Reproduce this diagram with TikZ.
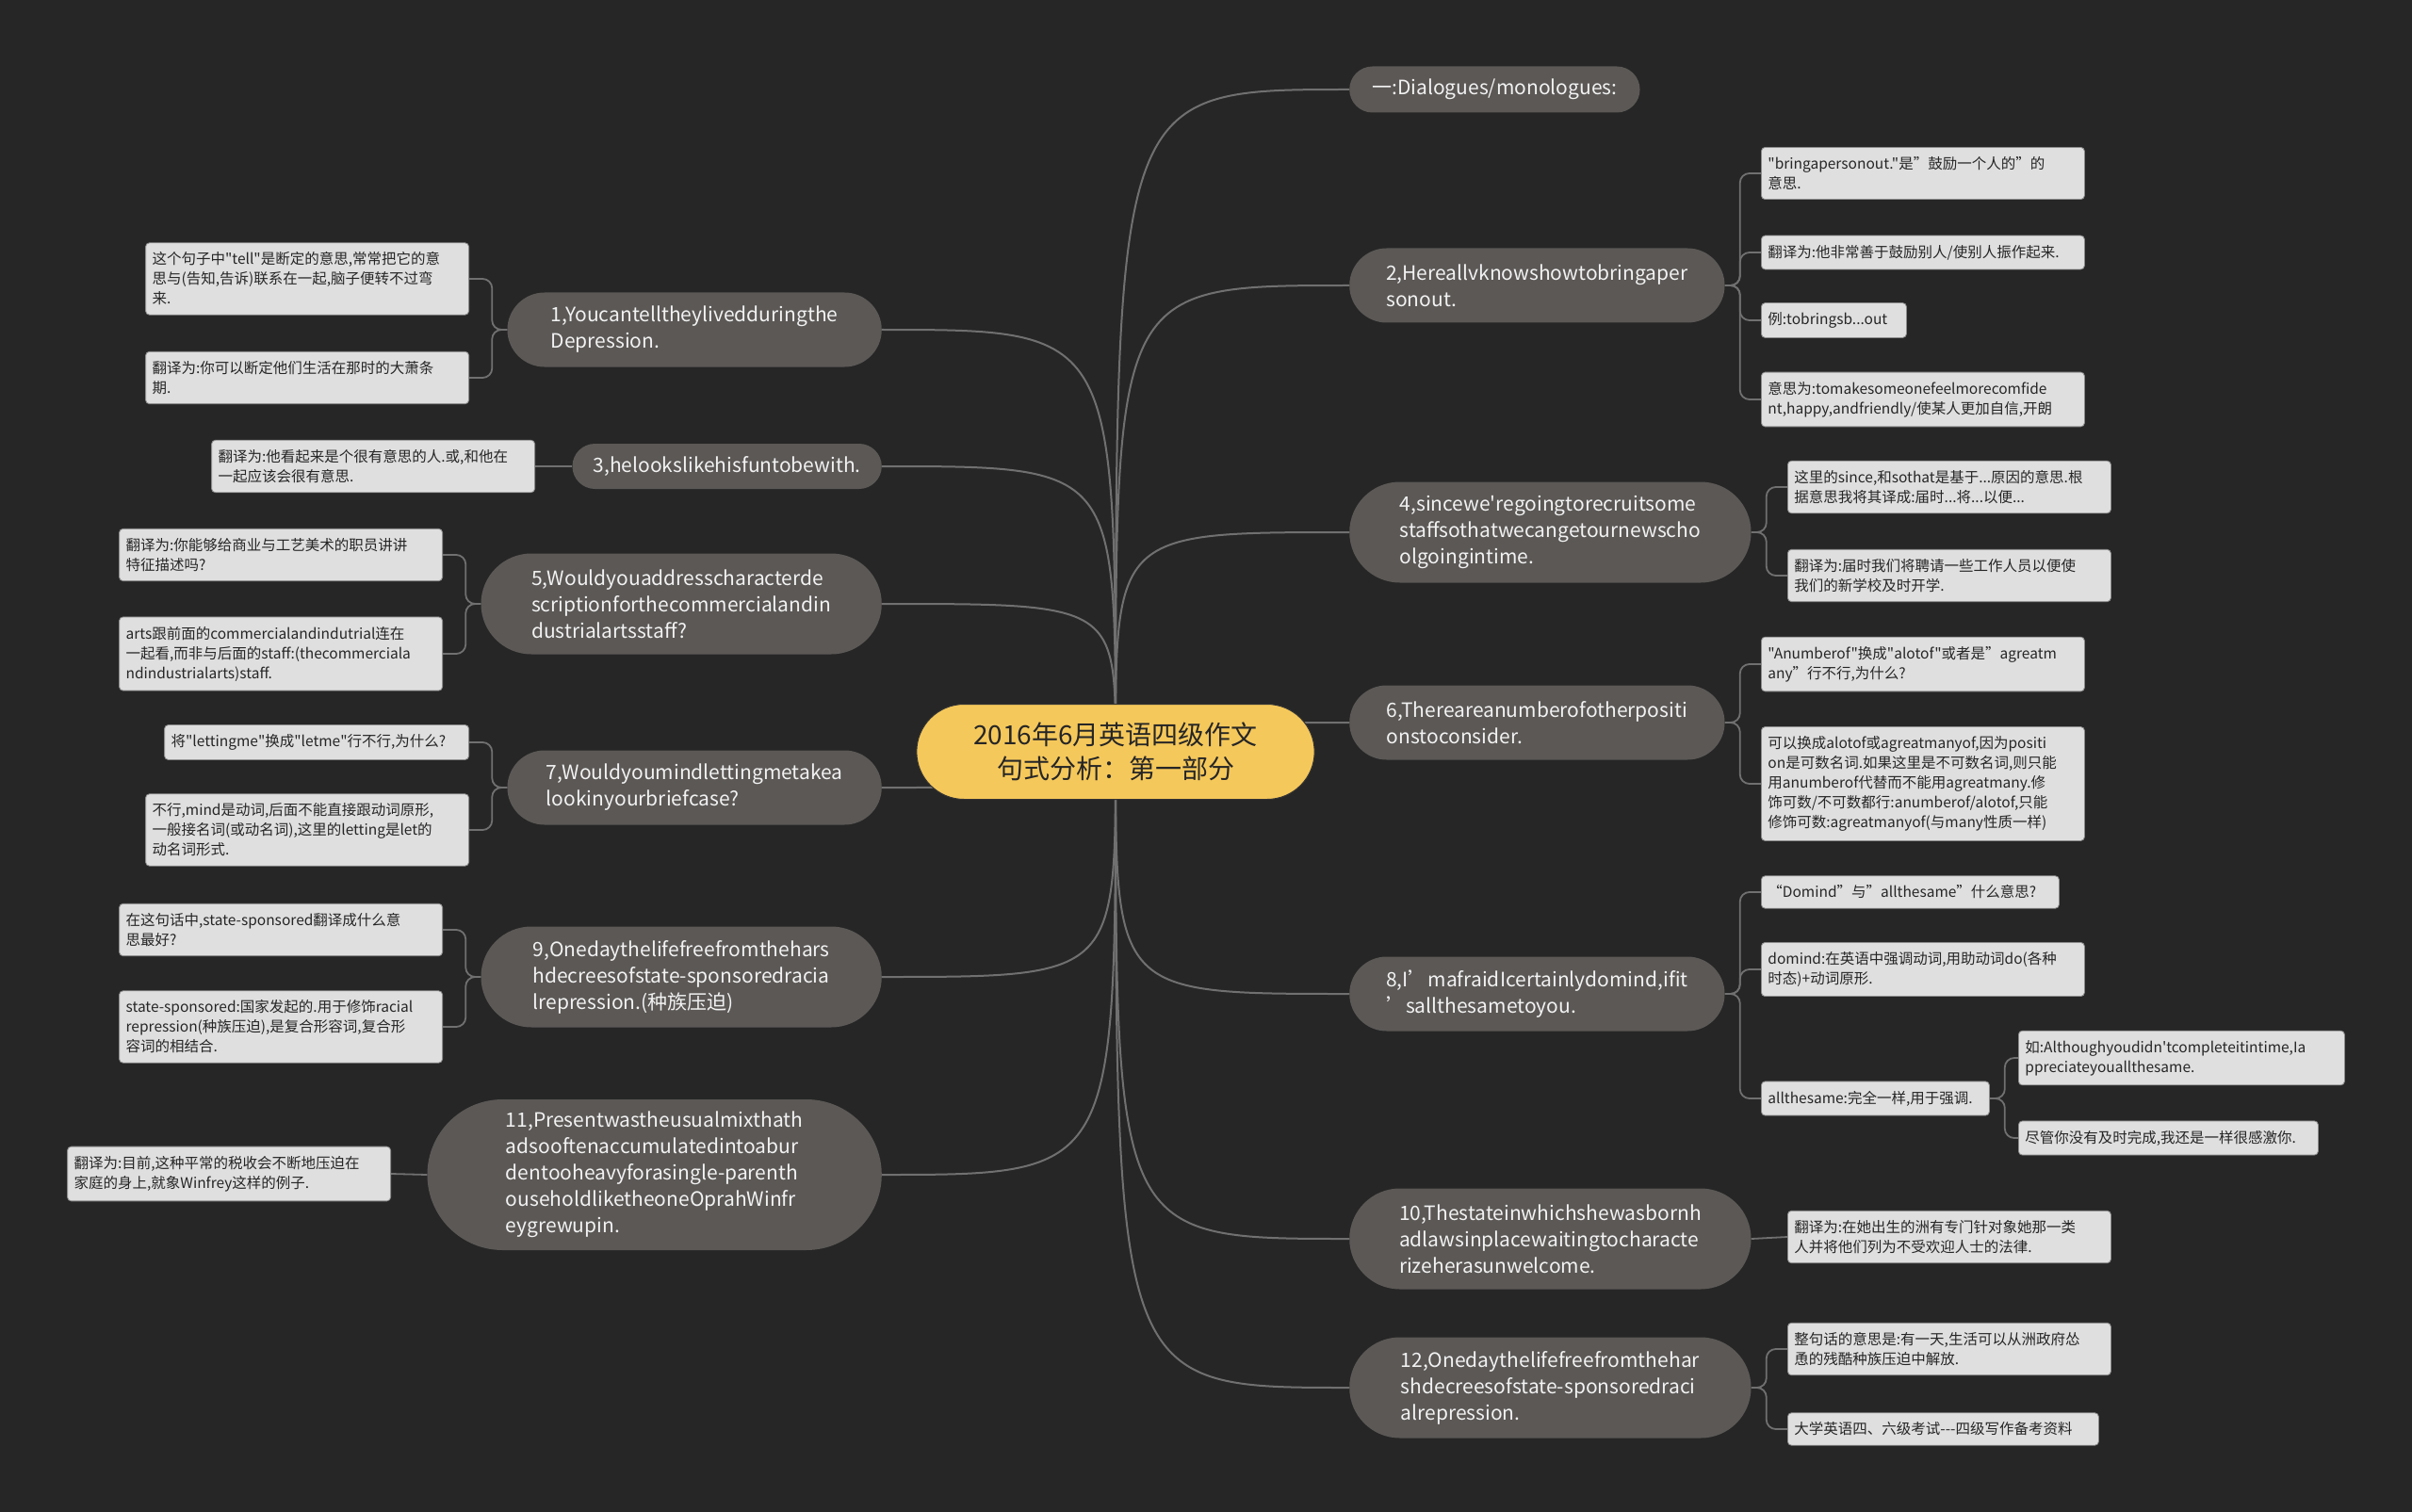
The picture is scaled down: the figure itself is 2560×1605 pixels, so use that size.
\documentclass[tikz,border=0pt]{standalone}
\usepackage{fontspec}
\setmainfont{Noto Sans CJK SC}[Ligatures=TeXOff]
\usetikzlibrary{shapes.misc}
\definecolor{bgcol}{HTML}{262626}
\definecolor{topiccol}{HTML}{5B5856}
\definecolor{leafcol}{HTML}{DFDFDF}
\definecolor{rootcol}{HTML}{F5C85B}
\definecolor{linkcol}{HTML}{707070}
\pgfdeclarelayer{bg}
\pgfsetlayers{bg,main}
\tikzset{root/.style={rounded rectangle,draw=black!80,line width=1pt,fill=rootcol,text=black!85,align=center,font=\fontsize{28}{36}\selectfont,minimum width=429pt,minimum height=101pt},topic/.style={rounded rectangle,fill=topiccol,text=white!95!black,align=left,font=\fontsize{21}{28}\selectfont,minimum height=79pt},leaf/.style={rectangle,rounded corners=4pt,fill=leafcol,draw=black!45,line width=0.8pt,text=black!85,align=left,font=\fontsize{15.5}{21}\selectfont,inner xsep=7pt,inner ysep=10pt,text width=329pt},link/.style={draw=linkcol,line width=2pt},brace/.style={draw=linkcol,line width=1.8pt,rounded corners=10pt}}

\begin{document}
\begin{tikzpicture}[x=1pt,y=-1pt]
\useasboundingbox (0,0) rectangle (2560,1605);
\node[root] (root) at (1184,798) {2016年6月英语四级作文\\句式分析：第一部分};
\node[topic, anchor=west, minimum width=315pt, minimum height=49pt] (r1) at (1432,95) {一:Dialogues/monologues:};
\node[topic, anchor=west, minimum width=405pt] (r2) at (1432,303) {2,Hereallvknowshowtobringaper\\sonout.};
\node[topic, anchor=west, minimum width=433pt, minimum height=107pt] (r3) at (1432,565) {4,sincewe'regoingtorecruitsome\\staffsothatwecangetournewscho\\olgoingintime.};
\node[topic, anchor=west, minimum width=405pt] (r4) at (1432,767) {6,Thereareanumberofotherpositi\\onstoconsider.};
\node[topic, anchor=west, minimum width=405pt] (r5) at (1432,1055) {8,I’mafraidIcertainlydomind,ifit\\’sallthesametoyou.};
\node[topic, anchor=west, minimum width=433pt, minimum height=107pt] (r6) at (1432,1315) {10,Thestateinwhichshewasbornh\\adlawsinplacewaitingtocharacte\\rizeherasunwelcome.};
\node[topic, anchor=west, minimum width=433pt, minimum height=107pt] (r7) at (1432,1473) {12,Onedaythelifefreefromthehar\\shdecreesofstate-sponsoredraci\\alrepression.};
\node[topic, anchor=east, minimum width=404pt] (l1) at (936,350) {1,Youcantelltheylivedduringthe\\Depression.};
\node[topic, anchor=east, minimum width=335pt, minimum height=48pt] (l2) at (936,495) {3,helookslikehisfuntobewith.};
\node[topic, anchor=east, minimum width=432pt, minimum height=107pt] (l3) at (936,641) {5,Wouldyouaddresscharacterde\\scriptionforthecommercialandin\\dustrialartsstaff?};
\node[topic, anchor=east, minimum width=404pt] (l4) at (936,836) {7,Wouldyoumindlettingmetakea\\lookinyourbriefcase?};
\node[topic, anchor=east, minimum width=432pt, minimum height=107pt] (l5) at (936,1037) {9,Onedaythelifefreefromthehars\\hdecreesofstate-sponsoredracia\\lrepression.(种族压迫)};
\node[topic, anchor=east, minimum width=489pt, minimum height=160pt] (l6) at (936,1247) {11,Presentwastheusualmixthath\\adsooftenaccumulatedintoabur\\dentooheavyforasingle-parenth\\ouseholdliketheoneOprahWinfr\\eygrewupin.};
\node[leaf, anchor=west] (r2a) at (1869,184) {"bringapersonout."是”鼓励一个人的”的\\意思.};
\node[leaf, anchor=west] (r2b) at (1869,268) {翻译为:他非常善于鼓励别人/使别人振作起来.};
\node[leaf, anchor=west, text width=140pt] (r2c) at (1869,340) {例:tobringsb...out};
\node[leaf, anchor=west] (r2d) at (1869,424) {意思为:tomakesomeonefeelmorecomfide\\nt,happy,andfriendly/使某人更加自信,开朗};
\node[leaf, anchor=west] (r3a) at (1897,517) {这里的since,和sothat是基于...原因的意思.根\\据意思我将其译成:届时...将...以便...};
\node[leaf, anchor=west] (r3b) at (1897,611) {翻译为:届时我们将聘请一些工作人员以便使\\我们的新学校及时开学.};
\node[leaf, anchor=west] (r4a) at (1869,705) {"Anumberof"换成"alotof"或者是”agreatm\\any”行不行,为什么?};
\node[leaf, anchor=west] (r4b) at (1869,832) {可以换成alotof或agreatmanyof,因为positi\\on是可数名词.如果这里是不可数名词,则只能\\用anumberof代替而不能用agreatmany.修\\饰可数/不可数都行:anumberof/alotof,只能\\修饰可数:agreatmanyof(与many性质一样)};
\node[leaf, anchor=west, text width=302pt] (r5a) at (1869,947) {“Domind”与”allthesame”什么意思?};
\node[leaf, anchor=west] (r5b) at (1869,1029) {domind:在英语中强调动词,用助动词do(各种\\时态)+动词原形.};
\node[leaf, anchor=west, text width=228pt] (r5c) at (1869,1166) {allthesame:完全一样,用于强调.};
\node[leaf, anchor=west, text width=332pt] (r5d) at (2142,1123) {如:Althoughyoudidn'tcompleteitintime,Ia\\ppreciateyouallthesame.};
\node[leaf, anchor=west, text width=304pt] (r5e) at (2142,1208) {尽管你没有及时完成,我还是一样很感激你.};
\node[leaf, anchor=west] (r6a) at (1897,1313) {翻译为:在她出生的洲有专门针对象她那一类\\人并将他们列为不受欢迎人士的法律.};
\node[leaf, anchor=west] (r7a) at (1897,1432) {整句话的意思是:有一天,生活可以从洲政府怂\\恿的残酷种族压迫中解放.};
\node[leaf, anchor=west, text width=316pt] (r7b) at (1897,1517) {大学英语四、六级考试---四级写作备考资料};
\node[leaf, anchor=east] (l1a) at (498,296) {这个句子中"tell"是断定的意思,常常把它的意\\思与(告知,告诉)联系在一起,脑子便转不过弯\\来.};
\node[leaf, anchor=east] (l1b) at (498,401) {翻译为:你可以断定他们生活在那时的大萧条\\期.};
\node[leaf, anchor=east] (l2a) at (568,495) {翻译为:他看起来是个很有意思的人.或,和他在\\一起应该会很有意思.};
\node[leaf, anchor=east] (l3a) at (470,589) {翻译为:你能够给商业与工艺美术的职员讲讲\\特征描述吗?};
\node[leaf, anchor=east] (l3b) at (470,694) {arts跟前面的commercialandindutrial连在\\一起看,而非与后面的staff:(thecommerciala\\ndindustrialarts)staff.};
\node[leaf, anchor=east, text width=309pt] (l4a) at (498,788) {将"lettingme"换成"letme"行不行,为什么?};
\node[leaf, anchor=east] (l4b) at (498,881) {不行,mind是动词,后面不能直接跟动词原形,\\一般接名词(或动名词),这里的letting是let的\\动名词形式.};
\node[leaf, anchor=east] (l5a) at (470,987) {在这句话中,state-sponsored翻译成什么意\\思最好?};
\node[leaf, anchor=east] (l5b) at (470,1090) {state-sponsored:国家发起的.用于修饰racial\\repression(种族压迫),是复合形容词,复合形\\容词的相结合.};
\node[leaf, anchor=east] (l6a) at (415,1246) {翻译为:目前,这种平常的税收会不断地压迫在\\家庭的身上,就象Winfrey这样的例子.};
\begin{pgfonlayer}{bg}
\fill[bgcol] (0,0) rectangle (2560,1605);
\draw[link] (root.center) .. controls (root.center |- r1.west) .. (r1.west);
\draw[link] (root.center) .. controls (root.center |- r2.west) .. (r2.west);
\draw[link] (root.center) .. controls (root.center |- r3.west) .. (r3.west);
\draw[link] (root.center) .. controls (root.center |- r4.west) .. (r4.west);
\draw[link] (root.center) .. controls (root.center |- r5.west) .. (r5.west);
\draw[link] (root.center) .. controls (root.center |- r6.west) .. (r6.west);
\draw[link] (root.center) .. controls (root.center |- r7.west) .. (r7.west);
\draw[link] (root.center) .. controls (root.center |- l1.east) .. (l1.east);
\draw[link] (root.center) .. controls (root.center |- l2.east) .. (l2.east);
\draw[link] (root.center) .. controls (root.center |- l3.east) .. (l3.east);
\draw[link] (root.center) .. controls (root.center |- l4.east) .. (l4.east);
\draw[link] (root.center) .. controls (root.center |- l5.east) .. (l5.east);
\draw[link] (root.center) .. controls (root.center |- l6.east) .. (l6.east);
\draw[brace] (r2.east) -- ++(16,0) |- (r2a.west);
\draw[brace] (r2.east) -- ++(16,0) |- (r2b.west);
\draw[brace] (r2.east) -- ++(16,0) |- (r2c.west);
\draw[brace] (r2.east) -- ++(16,0) |- (r2d.west);
\draw[brace] (r3.east) -- ++(16,0) |- (r3a.west);
\draw[brace] (r3.east) -- ++(16,0) |- (r3b.west);
\draw[brace] (r4.east) -- ++(16,0) |- (r4a.west);
\draw[brace] (r4.east) -- ++(16,0) |- (r4b.west);
\draw[brace] (r5.east) -- ++(16,0) |- (r5a.west);
\draw[brace] (r5.east) -- ++(16,0) |- (r5b.west);
\draw[brace] (r5.east) -- ++(16,0) |- (r5c.west);
\draw[brace] (r5c.east) -- ++(16,0) |- (r5d.west);
\draw[brace] (r5c.east) -- ++(16,0) |- (r5e.west);
\draw[brace] (r6.east) -- (r6a.west);
\draw[brace] (r7.east) -- ++(16,0) |- (r7a.west);
\draw[brace] (r7.east) -- ++(16,0) |- (r7b.west);
\draw[brace] (l1.west) -- ++(-16,0) |- (l1a.east);
\draw[brace] (l1.west) -- ++(-16,0) |- (l1b.east);
\draw[brace] (l2.west) -- (l2a.east);
\draw[brace] (l3.west) -- ++(-16,0) |- (l3a.east);
\draw[brace] (l3.west) -- ++(-16,0) |- (l3b.east);
\draw[brace] (l4.west) -- ++(-16,0) |- (l4a.east);
\draw[brace] (l4.west) -- ++(-16,0) |- (l4b.east);
\draw[brace] (l5.west) -- ++(-16,0) |- (l5a.east);
\draw[brace] (l5.west) -- ++(-16,0) |- (l5b.east);
\draw[brace] (l6.west) -- (l6a.east);
\end{pgfonlayer}
\end{tikzpicture}
\end{document}
